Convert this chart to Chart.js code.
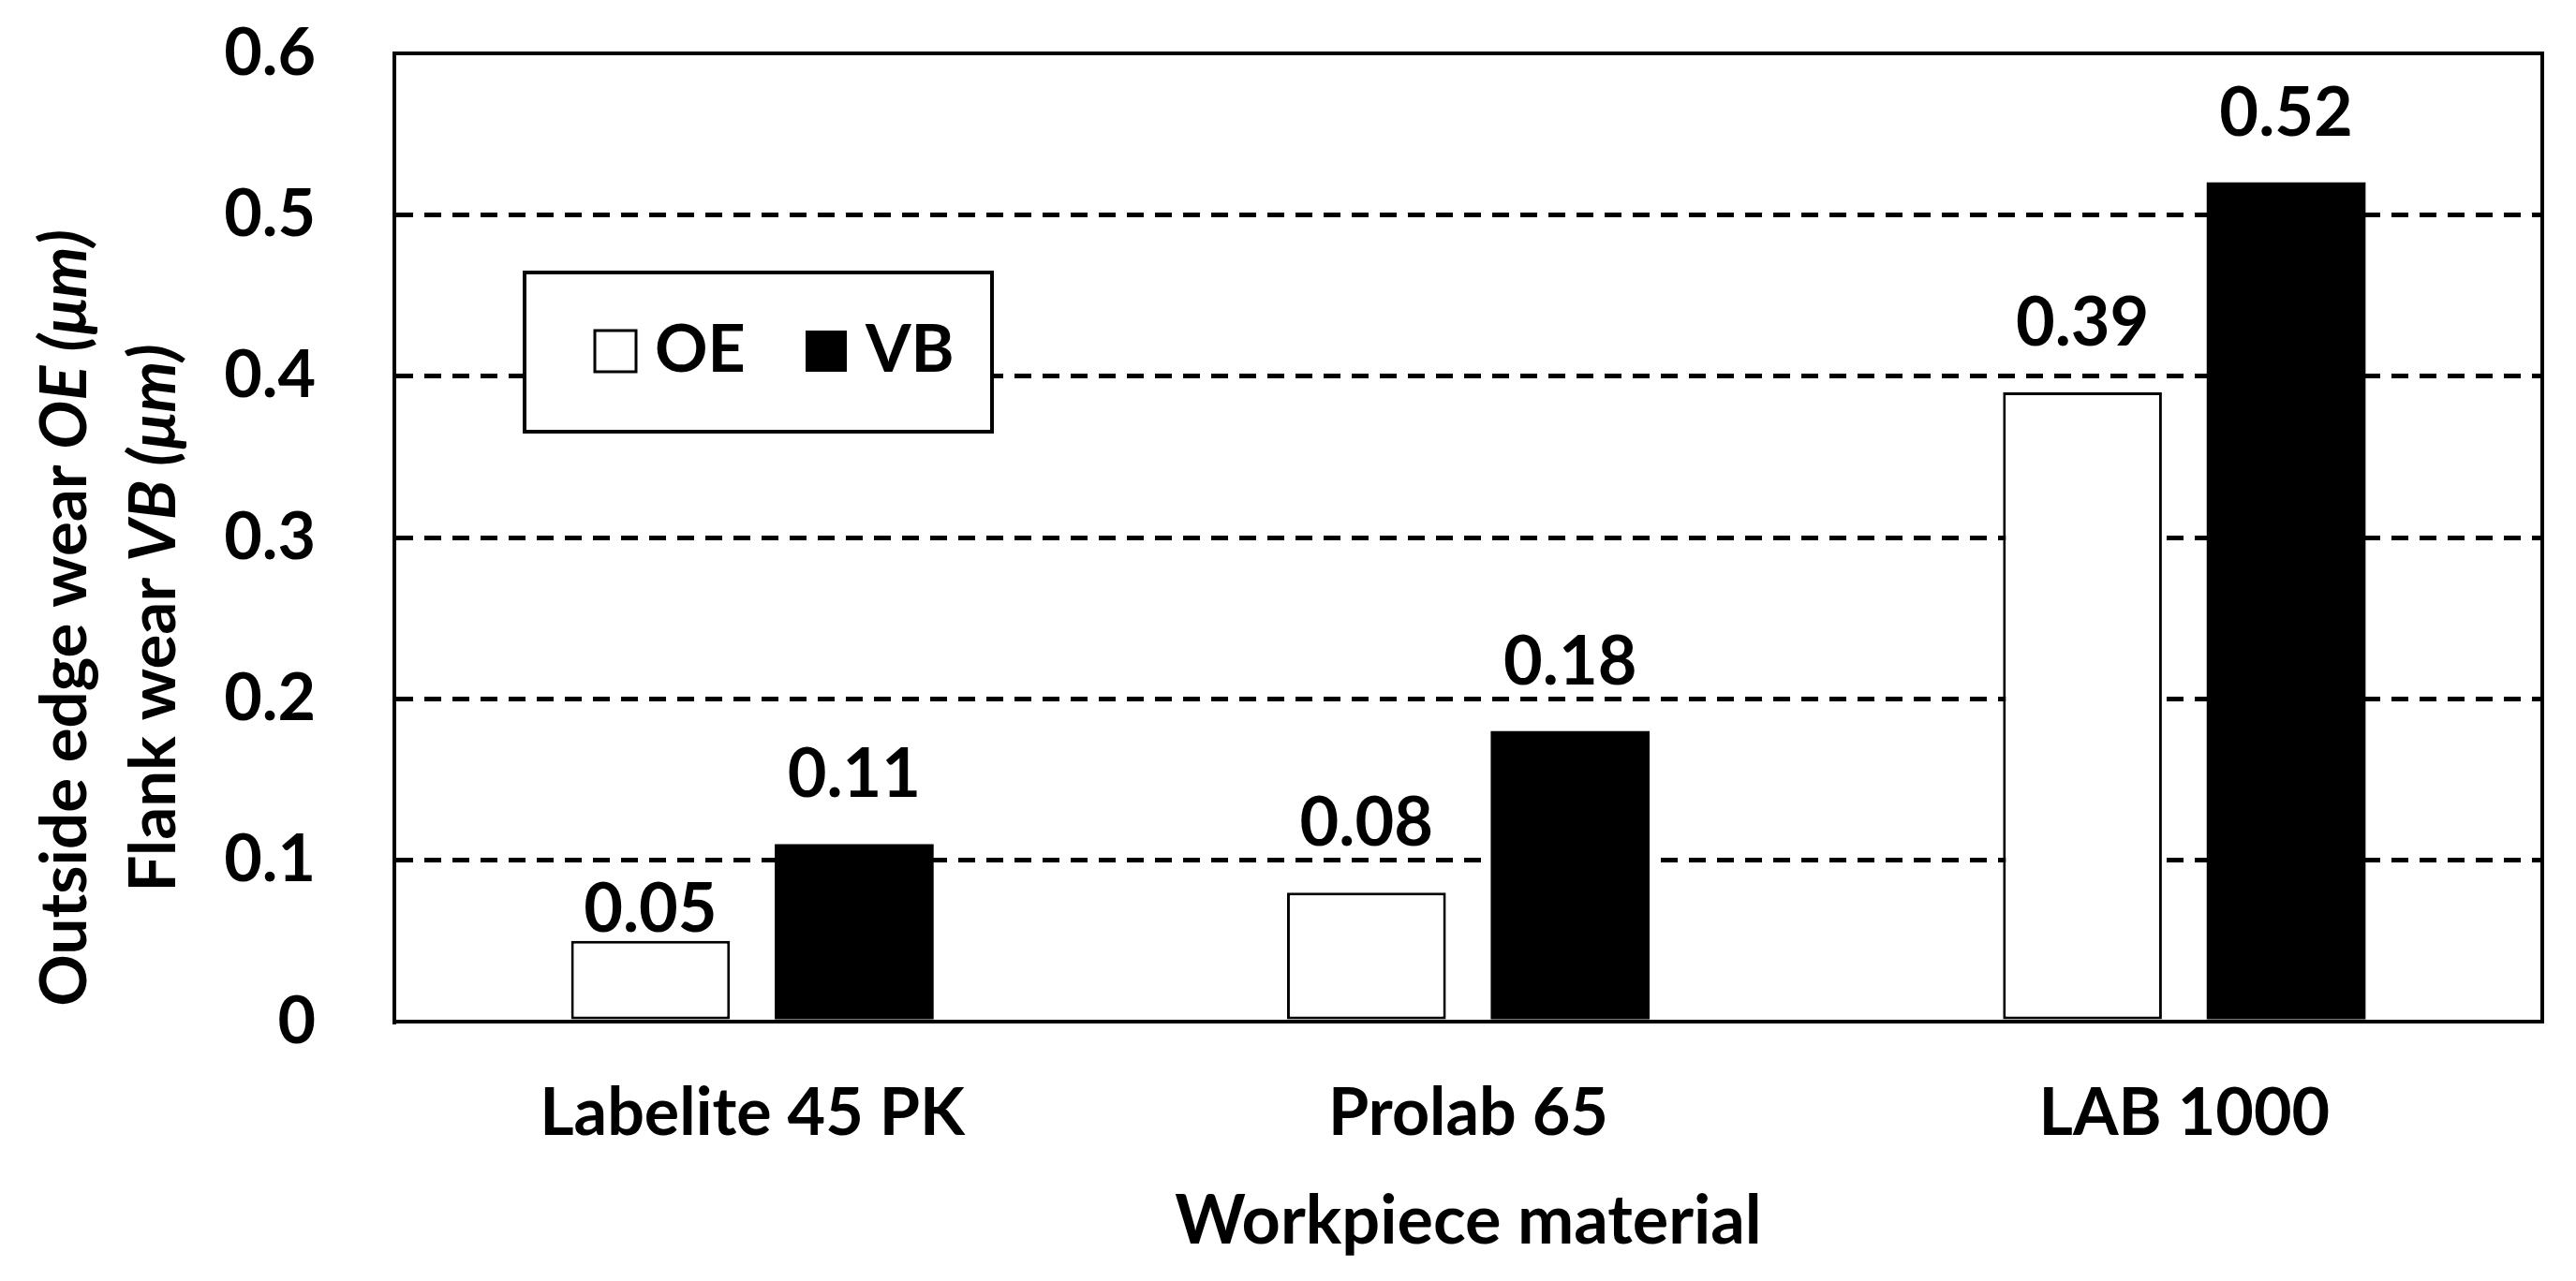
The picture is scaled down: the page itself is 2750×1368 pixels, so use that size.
<!DOCTYPE html>
<html>
<head>
<meta charset="utf-8">
<script src="https://cdn.jsdelivr.net/npm/chart.js@4"></script>
<style>
  body { margin: 0; background: #fff; }
  #wrap { width: 2750px; height: 1368px; }
</style>
</head>
<body>
<div id="wrap"><canvas id="wear-chart" width="2750" height="1368"></canvas></div>
<script>
var categories = ['Labelite 45 PK', 'Prolab 65', 'LAB 1000'];
var oeValues = [0.05, 0.08, 0.39];
var vbValues = [0.11, 0.18, 0.52];
var yMin = 0, yMax = 0.6, yStep = 0.1;
var xTitle = 'Workpiece material';
// y title lines, pieces marked true are italic
var yTitleLines = [
    [['Outside edge wear ', false], ['OE (\u03bcm)', true]],
    [['Flank wear ', false], ['VB (\u03bcm)', true]]
];

var FONT = 'Lato, "Open Sans", sans-serif';

// full frame round the plot area
var framePlugin = {
    id: 'frame',
    afterDatasetsDraw: function(chart) {
        var a = chart.chartArea, c = chart.ctx;
        c.save();
        c.strokeStyle = '#000';
        c.lineWidth = 4;
        c.strokeRect(a.left, a.top, a.right - a.left, a.bottom - a.top);
        c.restore();
    }
};

// value labels above the bars; a label that would sit on a grid line
// is pulled down close to its bar
var valueLabels = {
    id: 'valueLabels',
    afterDatasetsDraw: function(chart) {
        var c = chart.ctx;
        var yScale = chart.scales.y;
        var gridYs = yScale.ticks.map(function(t) { return yScale.getPixelForValue(t.value); });
        c.save();
        c.font = 'bold 72px ' + FONT;
        c.fillStyle = '#000';
        c.textAlign = 'center';
        c.textBaseline = 'alphabetic';
        chart.data.datasets.forEach(function(ds, i) {
            chart.getDatasetMeta(i).data.forEach(function(bar, j) {
                var base = bar.y - 50;
                var hits = gridYs.some(function(g) { return g > base - 56 && g < base + 4; });
                if (hits) base = bar.y - 10;
                c.fillText(ds.data[j].toFixed(2), bar.x, base);
            });
        });
        c.restore();
    }
};

// boxed legend inside the plot
var boxLegend = {
    id: 'boxLegend',
    afterDraw: function(chart) {
        var a = chart.chartArea, c = chart.ctx;
        var bx = a.left + 139, by = a.top + 234;
        c.save();
        c.fillStyle = '#fff';
        c.fillRect(bx, by, 499, 170);
        c.strokeStyle = '#000';
        c.lineWidth = 4;
        c.strokeRect(bx, by, 499, 170);
        c.font = 'bold 70px ' + FONT;
        c.textBaseline = 'alphabetic';
        var offs = [75, 300];
        chart.data.datasets.forEach(function(ds, i) {
            var sx = bx + offs[i];
            c.fillStyle = ds.backgroundColor;
            c.fillRect(sx, by + 62, 44, 44);
            if (ds.borderWidth) {
                c.lineWidth = 3;
                c.strokeStyle = ds.borderColor;
                c.strokeRect(sx, by + 62, 44, 44);
            }
            c.fillStyle = '#000';
            c.fillText(ds.label, sx + 64, by + 106);
        });
        c.restore();
    }
};

// two line y title with italic parts
var yTitle = {
    id: 'yTitle',
    afterDraw: function(chart) {
        var c = chart.ctx;
        var xs = [92, 187], cy = 660;
        c.save();
        c.fillStyle = '#000';
        c.textBaseline = 'alphabetic';
        c.textAlign = 'left';
        yTitleLines.forEach(function(line, i) {
            var fonts = line.map(function(p) {
                return (p[1] ? 'italic ' : '') + 'bold 69px ' + FONT;
            });
            var total = 0;
            line.forEach(function(p, k) { c.font = fonts[k]; total += c.measureText(p[0]).width; });
            c.save();
            c.translate(xs[i], cy);
            c.rotate(-Math.PI / 2);
            var x = -total / 2;
            line.forEach(function(p, k) {
                c.font = fonts[k];
                c.fillText(p[0], x, 0);
                x += c.measureText(p[0]).width;
            });
            c.restore();
        });
        c.restore();
    }
};

var ctx = document.getElementById('wear-chart').getContext('2d');
var myChart = new Chart(ctx, {
    type: 'bar',
    data: {
        labels: categories,
        datasets: [{
            label: 'OE',
            data: oeValues,
            backgroundColor: '#ffffff',
            borderColor: '#000000',
            borderWidth: 3,
            borderSkipped: false
        }, {
            label: 'VB',
            data: vbValues,
            backgroundColor: '#000000',
            borderWidth: 0
        }]
    },
    options: {
        responsive: false,
        animation: false,
        events: [],
        categoryPercentage: 0.569,
        barPercentage: 0.78,
        layout: { padding: { top: 57, right: 36, left: 0, bottom: 0 } },
        plugins: {
            legend: { display: false },
            tooltip: { enabled: false }
        },
        scales: {
            x: {
                grid: { display: false, drawTicks: false },
                border: { display: true, color: '#000', width: 4 },
                ticks: {
                    color: '#000',
                    font: { family: FONT, size: 70, weight: 'bold' },
                    padding: 56
                },
                title: {
                    display: true,
                    text: xTitle,
                    color: '#000',
                    font: { family: FONT, size: 72, weight: 'bold' },
                    padding: { top: 0, bottom: 20 }
                },
                afterFit: function(s) {
                    s.height = 277;
                    s.paddingLeft = 0;
                    s.paddingRight = 0;
                }
            },
            y: {
                min: yMin,
                max: yMax,
                grid: {
                    drawTicks: false,
                    lineWidth: 5,
                    color: function(c) {
                        var v = c.tick ? c.tick.value : null;
                        if (v === null || Math.abs(v - yMin) < 1e-9 || Math.abs(v - yMax) < 1e-9) return 'rgba(0,0,0,0)';
                        return '#000';
                    }
                },
                border: { display: true, color: '#000', width: 4, dash: [18, 12] },
                ticks: {
                    stepSize: yStep,
                    color: '#000',
                    padding: 84,
                    font: { family: FONT, size: 70, weight: 'bold' },
                    callback: function(v) { return v === 0 ? '0' : Number(v).toFixed(1); }
                },
                afterFit: function(s) {
                    s.width = 421;
                    s.paddingTop = 0;
                    s.paddingBottom = 0;
                }
            }
        }
    },
    plugins: [framePlugin, valueLabels, boxLegend, yTitle]
});
</script>
</body>
</html>
